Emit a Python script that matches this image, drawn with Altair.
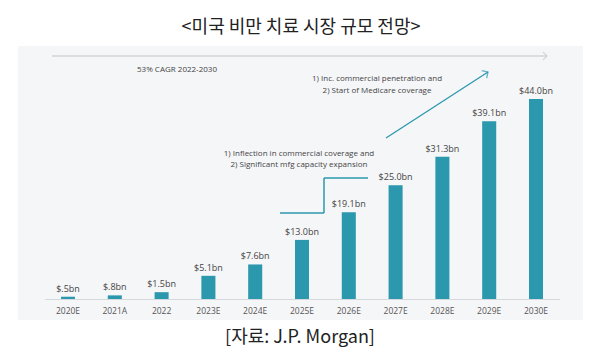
import altair as alt
import pandas as pd

categories = ["2020E", "2021A", "2022", "2023E", "2024E", "2025E",
              "2026E", "2027E", "2028E", "2029E", "2030E"]
values = [0.5, 0.8, 1.5, 5.1, 7.6, 13.0, 19.1, 25.0, 31.3, 39.1, 44.0]
value_labels = ["$.5bn", "$.8bn", "$1.5bn", "$5.1bn", "$7.6bn", "$13.0bn",
                "$19.1bn", "$25.0bn", "$31.3bn", "$39.1bn", "$44.0bn"]

title_text = "<미국 비만 치료 시장 규모 전망>"
source_text = "[자료: J.P. Morgan]"
cagr_text = "53% CAGR 2022-2030"
note_upper = ["1) Inc. commercial penetration and", "2) Start of Medicare coverage"]
note_lower = ["1) Inflection in commercial coverage and", "2) Significant mfg capacity expansion"]

df = pd.DataFrame({"year": categories, "value": values, "label": value_labels})
one = pd.DataFrame({"k": [0]})

TEAL = "#2b98ae"
SMALL_FONT = "Open Sans"
KR_FONT = "Noto Sans CJK KR"

xscale = alt.Scale(domain=categories, range=[26.6, 541.4], paddingInner=0.7, paddingOuter=0.35)
yscale = alt.Scale(domain=[0, 55.66], nice=False, zero=True)

panel = alt.Chart(one).mark_rect(color="#f5f6f8").encode(
    x=alt.value(0), x2=alt.value(565), y=alt.value(0), y2=alt.value(274)
)

bars = alt.Chart(df).mark_bar(color=TEAL).encode(
    x=alt.X("year:N", scale=xscale, sort=categories,
            axis=alt.Axis(title=None, labelAngle=0, ticks=False, labelPadding=7,
                          domainColor="#d5d8dc", labelColor="#555555", labelFontSize=8.5,
                          labelFont="Open Sans", zindex=1)),
    y=alt.Y("value:Q", scale=yscale, axis=None),
)

bar_labels = alt.Chart(df).mark_text(dy=-3, baseline="bottom", fontSize=9,
                                     color="#444444", font="Open Sans").encode(
    x=alt.X("year:N", scale=xscale, sort=categories),
    y=alt.Y("value:Q", scale=yscale),
    text="label:N",
)

# gray CAGR arrow
gray_line = alt.Chart(one).mark_rule(color="#d2d5da", strokeWidth=1.5).encode(
    x=alt.value(34), x2=alt.value(529), y=alt.value(10)
)
gray_head = alt.Chart(one).mark_point(shape="M-1,-1L0,0L-1,1", size=64, filled=False,
                                      color="#c8cbd0", strokeWidth=1.2).encode(
    x=alt.value(529), y=alt.value(10)
)

# teal step line
step1 = alt.Chart(one).mark_rule(color=TEAL, strokeWidth=1.5).encode(
    x=alt.value(262), x2=alt.value(306), y=alt.value(167))
step2 = alt.Chart(one).mark_rule(color=TEAL, strokeWidth=1.5).encode(
    x=alt.value(306), y=alt.value(132), y2=alt.value(167))
step3 = alt.Chart(one).mark_rule(color=TEAL, strokeWidth=1.5).encode(
    x=alt.value(306), x2=alt.value(350), y=alt.value(132))

# teal diagonal arrow
diag = alt.Chart(one).mark_rule(color=TEAL, strokeWidth=1.3).encode(
    x=alt.value(368), y=alt.value(92), x2=alt.value(470), y2=alt.value(26))
diag_head = alt.Chart(one).mark_point(shape="M-1,-1L0,0L-1,1", size=81, filled=False,
                                      color=TEAL, strokeWidth=1.3, angle=327).encode(
    x=alt.value(470), y=alt.value(26))

def txt(s, x, y, size=8, font=SMALL_FONT, color="#444444", baseline="middle"):
    return alt.Chart(one).mark_text(text=s, fontSize=size, font=font, color=color,
                                    baseline=baseline, align="center").encode(
        x=alt.value(x), y=alt.value(y))

texts = [
    txt(title_text, 283, -13, size=18, font=KR_FONT, color="#222222", baseline="alphabetic"),
    txt(source_text, 282, 292, size=18, font=KR_FONT, color="#222222"),
    txt(cagr_text, 159, 24),
    txt(note_upper[0], 359, 33),
    txt(note_upper[1], 359, 45),
    txt(note_lower[0], 281, 108),
    txt(note_lower[1], 281, 119),
]

chart = alt.layer(panel, gray_line, gray_head, step1, step2, step3, diag, diag_head,
                  bars, bar_labels, *texts).properties(
    width=565, height=253,
    autosize=alt.AutoSizeParams(type="none"),
    padding={"left": 10, "top": 38, "right": 22, "bottom": 57},
    background="white",
).configure_view(stroke=None)

chart.save("out.html", embed_options={"renderer": "svg", "actions": False})
